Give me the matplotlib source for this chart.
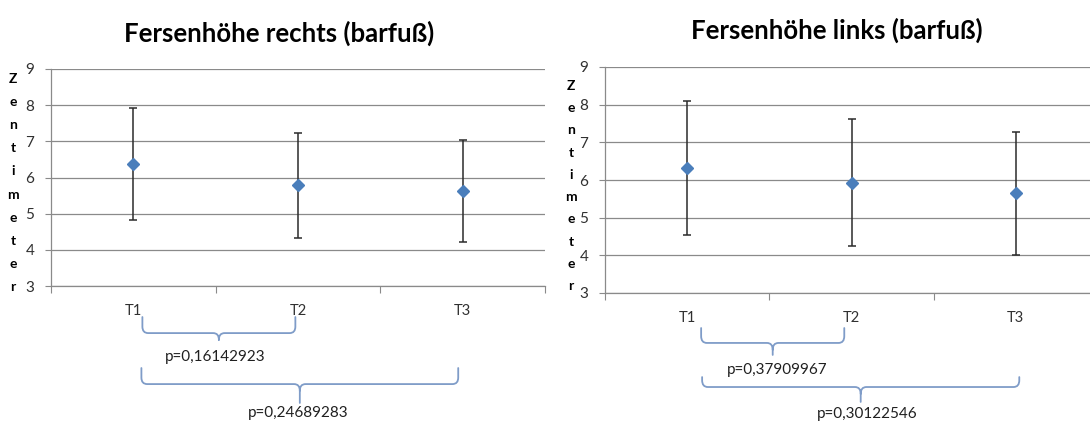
import numpy as np
import matplotlib
matplotlib.use("Agg")
import matplotlib.pyplot as plt
from matplotlib.path import Path
from matplotlib.patches import PathPatch
from matplotlib.transforms import blended_transform_factory

# ---- data ----
categories = ["T1", "T2", "T3"]
titles = ["Fersenhöhe rechts (barfuß)", "Fersenhöhe links (barfuß)"]
right_mean = [6.38, 5.78, 5.64]
right_sd = [1.55, 1.46, 1.41]
left_mean = [6.33, 5.93, 5.65]
left_sd = [1.78, 1.68, 1.63]
y_ticks = [3, 4, 5, 6, 7, 8, 9]
ylabel_letters = list("Zentimeter")
comparisons = [(0, 1), (0, 2)]
right_p = ["p=0,16142923", "p=0,24689283"]
left_p = ["p=0,37909967", "p=0,30122546"]

W, H = 1090, 421
fig = plt.figure(figsize=(W / 100, H / 100), dpi=100)
FONT = "Lato"
GRID = "#8a8a8a"
MARK = "#4a7ebb"
BRACE = "#7f9cc8"

def px_axes(x0, y0, x1, y1):
    return fig.add_axes([x0 / W, 1 - y1 / H, (x1 - x0) / W, (y1 - y0) / H])

panels = [
    dict(rect=(51, 69, 545, 286), mean=right_mean, sd=right_sd, title=titles[0],
         title_xy=(279, 33), p=right_p, letter_x=13, letter_y=(79, 287),
         braces=[dict(ins=(0.055, 0.016), yt=-0.143, yh=-0.217, yb=-0.249, ty=-0.327, tdx=-0.02),
                 dict(ins=(0.049, 0.027), yt=-0.378, yh=-0.452, yb=-0.539, ty=-0.585, tdx=-0.01)]),
    dict(rect=(605, 67, 1098, 293), mean=left_mean, sd=left_sd, title=titles[1],
         title_xy=(837, 30), p=left_p, letter_x=571, letter_y=(86, 286),
         braces=[dict(ins=(0.085, 0.044), yt=-0.155, yh=-0.221, yb=-0.274, ty=-0.341, tdx=0.03),
                 dict(ins=(0.091, -0.021), yt=-0.372, yh=-0.416, yb=-0.482, ty=-0.535, tdx=0.04)]),
]

def draw_brace(ax, xa, xb, yt, yh, yb, color):
    tr = blended_transform_factory(ax.transData, ax.transAxes)
    xm = (xa + xb) / 2
    rx, ry = 0.035, 0.03
    verts = [
        (xa, yt), (xa, yh + ry), (xa, yh), (xa + rx, yh), (xm - rx, yh),
        (xm, yh), (xm, yh - ry), (xm, yb),
        (xb, yt), (xb, yh + ry), (xb, yh), (xb - rx, yh), (xm + rx, yh),
        (xm, yh), (xm, yh - ry),
    ]
    codes = [Path.MOVETO, Path.LINETO, Path.CURVE3, Path.CURVE3, Path.LINETO,
             Path.CURVE3, Path.CURVE3, Path.LINETO,
             Path.MOVETO, Path.LINETO, Path.CURVE3, Path.CURVE3, Path.LINETO,
             Path.CURVE3, Path.CURVE3]
    patch = PathPatch(Path(verts, codes), transform=tr, fill=False,
                      edgecolor=color, lw=1.3, clip_on=False, capstyle="round")
    ax.add_patch(patch)

for pn in panels:
    ax = px_axes(*pn["rect"])
    x = np.arange(len(categories))
    ax.errorbar(x, pn["mean"], yerr=pn["sd"], fmt="D", color=MARK, ms=6.5,
                ecolor="#2b2b2b", elinewidth=1.1, capsize=3, capthick=1.1, zorder=3)
    ax.set_xlim(-0.5, len(categories) - 0.5)
    ax.set_ylim(3, 9)
    ax.set_yticks(y_ticks)
    ax.set_yticklabels([str(t) for t in y_ticks], fontsize=11, family=FONT, color="#303030")
    ax.set_xticks(x)
    ax.set_xticklabels(categories, fontsize=10.5, family=FONT, color="#303030")
    ax.set_xticks(np.arange(-0.5, len(categories)), minor=True)
    ax.tick_params(axis="x", which="major", length=0, pad=13)
    ax.tick_params(axis="x", which="minor", length=5, color=GRID, width=0.8, direction="out")
    ax.tick_params(axis="y", length=4, color=GRID, width=0.8, pad=8)
    ax.yaxis.grid(True, color=GRID, lw=0.9)
    ax.set_axisbelow(True)
    for s in ["top", "right"]:
        ax.spines[s].set_visible(False)
    for s in ["left", "bottom"]:
        ax.spines[s].set_color(GRID)
        ax.spines[s].set_linewidth(0.9)
    # title
    fig.text(pn["title_xy"][0] / W, 1 - pn["title_xy"][1] / H, pn["title"],
             ha="center", va="center", fontsize=18.5, fontweight="bold", family=FONT)
    # vertical y label letters
    ys = np.linspace(pn["letter_y"][0], pn["letter_y"][1], len(ylabel_letters))
    for ch, yy in zip(ylabel_letters, ys):
        fig.text(pn["letter_x"] / W, 1 - yy / H, ch, ha="center", va="center",
                 fontsize=10, fontweight="bold", family=FONT)
    # braces with p-values
    tr = blended_transform_factory(ax.transData, ax.transAxes)
    for (a, b), ptxt, br in zip(comparisons, pn["p"], pn["braces"]):
        xa = x[a] + br["ins"][0]
        xb = x[b] - br["ins"][1]
        draw_brace(ax, xa, xb, br["yt"], br["yh"], br["yb"], BRACE)
        ax.text((xa + xb) / 2 + br["tdx"], br["ty"], ptxt, transform=tr, ha="center",
                va="center", fontsize=11, family=FONT, color="#202020", clip_on=False)

fig.savefig("out.png", dpi=100)
